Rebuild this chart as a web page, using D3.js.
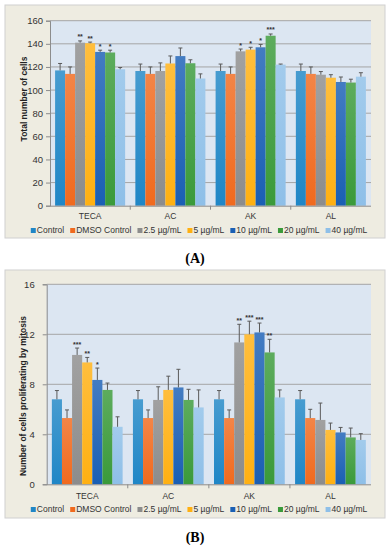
<!DOCTYPE html>
<html lang="en">
<head>
<meta charset="UTF-8">
<title>Cell counts</title>
<script src="https://d3js.org/d3.v7.min.js"></script>
<style>
    body { margin: 0; padding: 0; background: #fff; }
    svg { display: block; font-family: "Liberation Sans", Arial, sans-serif; }
    .tick text { fill: #333; }
</style>
</head>
<body>
<svg width="390" height="550"></svg>

<script>
    const categories = ["TECA", "AC", "AK", "AL"];
    const series = ["Control", "DMSO Control", "2.5 µg/mL", "5 µg/mL", "10 µg/mL", "20 µg/mL", "40 µg/mL"];
    const colors = ["#1f86c6", "#f06a1e", "#8c8c8c", "#ffb012", "#1a5fb4", "#3a9a3a", "#8ebfe8"];

    // panel A: total number of cells (rows = categories, cols = series)
    const totalCells = [
        [117, 114, 141, 140.5, 133, 132.5, 118],
        [116.5, 114, 116.5, 123, 129.4, 123.2, 110],
        [116.5, 114, 133.5, 135, 137, 147, 122],
        [116.5, 114, 113.3, 110.7, 107, 106.5, 111.6]
    ];
    const totalErr = [
        [6, 6, 1.5, 1, 1.5, 2, 1.5],
        [6, 6, 7, 6.5, 7, 3, 4],
        [6, 6, 2, 2, 2.5, 1.5, 0.5],
        [6, 6, 2.7, 2.6, 4.3, 2.9, 3.4]
    ];
    const totalSig = [
        ["", "", "**", "**", "*", "*", ""],
        ["", "", "", "", "", "", ""],
        ["", "", "*", "*", "*", "***", ""],
        ["", "", "", "", "", "", ""]
    ];
    const totalTicks = [0, 20, 40, 60, 80, 100, 120, 140, 160];

    // panel B: cells proliferating by mitosis
    const mitosis = [
        [6.8, 5.3, 10.35, 9.75, 8.35, 7.55, 4.6],
        [6.8, 5.3, 6.75, 7.55, 7.75, 6.75, 6.15],
        [6.8, 5.3, 11.35, 12.0, 12.15, 10.55, 6.95],
        [6.8, 5.3, 5.15, 4.35, 4.15, 3.75, 3.55]
    ];
    const mitosisErr = [
        [0.7, 0.65, 0.55, 0.4, 0.95, 0.55, 0.8],
        [0.7, 0.65, 1.05, 1.1, 1.45, 0.85, 1.4],
        [0.7, 0.65, 1.45, 1.05, 0.75, 1.05, 0.6],
        [0.7, 0.7, 1.35, 0.55, 0.4, 0.75, 0.5]
    ];
    const mitosisSig = [
        ["", "", "***", "**", "*", "", ""],
        ["", "", "", "", "", "", ""],
        ["", "", "**", "***", "***", "**", ""],
        ["", "", "", "", "", "", ""]
    ];
    const mitosisTicks = [0, 4, 8, 12, 16];

    const svg = d3.select("svg");

    // vertical gradients, lighter on top like the office chart style
    const defs = svg.append("defs");
    colors.forEach(function (c, i) {
        const g = defs.append("linearGradient").attr("id", "grad" + i)
            .attr("x1", 0).attr("y1", 0).attr("x2", 0).attr("y2", 1);
        g.append("stop").attr("offset", "0%").attr("stop-color", d3.interpolateRgb(c, "#fff")(0.18));
        g.append("stop").attr("offset", "100%").attr("stop-color", c);
    });

    function drawPanel(cfg) {
        const g = svg.append("g");

        g.append("rect")
            .attr("x", cfg.box[0]).attr("y", cfg.box[1])
            .attr("width", cfg.box[2]).attr("height", cfg.box[3])
            .attr("fill", "#eeece1").attr("stroke", "#d0d0d0");

        const y = d3.scaleLinear().domain([0, cfg.max]).range([cfg.bottom, cfg.top]);
        const x0 = d3.scaleBand().domain(categories).range([cfg.left, cfg.right]);
        const x1 = d3.scaleBand().domain(series).range([0, x0.bandwidth()]).paddingOuter(0.51);

        g.append("rect")
            .attr("x", cfg.left).attr("y", cfg.top)
            .attr("width", cfg.right - cfg.left).attr("height", cfg.bottom - cfg.top)
            .attr("fill", "#dce6f2");

        // gridlines
        g.append("g").selectAll("line").data(cfg.ticks.slice(1)).join("line")
            .attr("x1", cfg.left).attr("x2", cfg.right)
            .attr("y1", d => y(d)).attr("y2", d => y(d))
            .attr("stroke", "#a5a5a5").attr("stroke-width", 1);

        // y axis
        const yAxis = g.append("g").attr("transform", `translate(${cfg.left},0)`)
            .call(d3.axisLeft(y).tickValues(cfg.ticks).tickSize(4).tickPadding(cfg.tickPad));
        yAxis.select(".domain").attr("stroke", "#8c8c8c");
        yAxis.selectAll(".tick line").attr("stroke", "#8c8c8c");
        yAxis.selectAll(".tick text").attr("font-size", "9.5px").attr("fill", "#333");

        // bars
        const groups = g.append("g").selectAll("g").data(categories).join("g")
            .attr("transform", d => `translate(${x0(d)},0)`);

        groups.each(function (cat, ci) {
            const grp = d3.select(this);
            series.forEach(function (s, si) {
                const v = cfg.values[ci][si];
                const e = cfg.errs[ci][si];
                const bx = x1(s);
                const bw = x1.bandwidth();
                grp.append("rect")
                    .attr("x", bx).attr("y", y(v))
                    .attr("width", bw).attr("height", y(0) - y(v))
                    .attr("fill", `url(#grad${si})`);
                const cx = bx + bw / 2;
                grp.append("line")
                    .attr("x1", cx).attr("x2", cx)
                    .attr("y1", y(v)).attr("y2", y(v + e))
                    .attr("stroke", "#5a5a5a").attr("stroke-width", 1);
                grp.append("line")
                    .attr("x1", cx - 2).attr("x2", cx + 2)
                    .attr("y1", y(v + e)).attr("y2", y(v + e))
                    .attr("stroke", "#5a5a5a").attr("stroke-width", 1);
                const sig = cfg.sig[ci][si];
                if (sig) {
                    grp.append("text")
                        .attr("x", cx).attr("y", y(v + e) - 1.5)
                        .attr("text-anchor", "middle")
                        .attr("font-size", "7px").attr("font-weight", "bold")
                        .attr("fill", "#333")
                        .text(sig);
                }
            });
        });

        // x axis
        g.append("line")
            .attr("x1", cfg.left).attr("x2", cfg.right)
            .attr("y1", cfg.bottom + 0.5).attr("y2", cfg.bottom + 0.5)
            .attr("stroke", "#8c8c8c");
        g.append("g").selectAll("line").data(categories.slice(1)).join("line")
            .attr("x1", d => x0(d)).attr("x2", d => x0(d))
            .attr("y1", cfg.bottom).attr("y2", cfg.bottom + 4)
            .attr("stroke", "#8c8c8c");
        g.append("g").selectAll("text").data(categories).join("text")
            .attr("x", d => x0(d) + x0.bandwidth() / 2)
            .attr("y", cfg.catY)
            .attr("text-anchor", "middle")
            .attr("font-size", "8.5px").attr("fill", "#333")
            .text(d => d);

        // y title
        g.append("text")
            .attr("transform", `translate(${cfg.titleX},${cfg.titleY}) rotate(-90)`)
            .attr("text-anchor", "middle")
            .attr("font-size", "8.5px").attr("font-weight", "bold").attr("fill", "#222")
            .text(cfg.title);

        // legend
        const leg = g.append("g");
        let cursor = 0;
        series.forEach(function (s, si) {
            const it = leg.append("g").attr("transform", `translate(${cursor},0)`);
            it.append("rect").attr("x", 0).attr("y", -5).attr("width", 5).attr("height", 5)
                .attr("fill", colors[si]);
            const t = it.append("text").attr("x", 6).attr("y", 0)
                .attr("font-size", "8.5px").attr("fill", "#333").text(s);
            cursor += 6 + t.node().getComputedTextLength() + 6;
        });
        leg.attr("transform", `translate(${(cfg.box[0] + cfg.box[2] / 2) - (cursor - 6) / 2 + 4},${cfg.legY})`);

        // caption
        svg.append("text")
            .attr("x", 195).attr("y", cfg.capY)
            .attr("text-anchor", "middle")
            .attr("font-family", "'Liberation Serif', 'Times New Roman', serif")
            .attr("font-size", "14px").attr("font-weight", "bold")
            .text(cfg.caption);
    }

    drawPanel({
        box: [5, 5, 380, 233], left: 50, right: 371, top: 20.7, bottom: 205.7,
        max: 160, ticks: totalTicks, tickPad: 3,
        values: totalCells, errs: totalErr, sig: totalSig,
        title: "Total number of cells", titleX: 27, titleY: 99,
        catY: 219, legY: 233, capY: 263, caption: "(A)"
    });

    drawPanel({
        box: [5, 270, 380, 248], left: 46.7, right: 371, top: 284.3, bottom: 484.3,
        max: 16, ticks: mitosisTicks, tickPad: 8,
        values: mitosis, errs: mitosisErr, sig: mitosisSig,
        title: "Number of cells proliferating by mitosis", titleX: 26, titleY: 396,
        catY: 499, legY: 512, capY: 542, caption: "(B)"
    });
</script>
</body>
</html>
